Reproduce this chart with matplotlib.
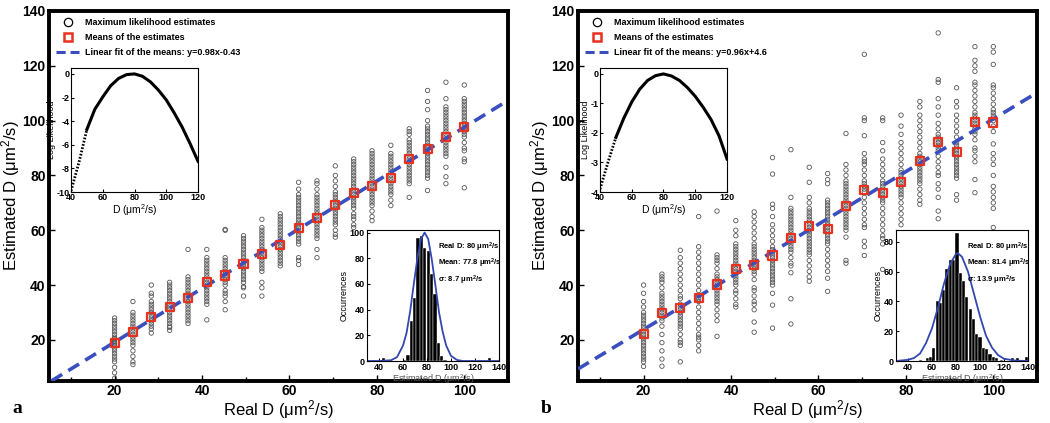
import numpy as np
import matplotlib
matplotlib.use('Agg')
from matplotlib import pyplot as plt
from matplotlib.lines import Line2D

plt.rcParams['font.family'] = ['Liberation Sans', 'DejaVu Sans']
plt.rcParams['mathtext.fontset'] = 'custom'
plt.rcParams['mathtext.rm'] = 'Liberation Sans'
plt.rcParams['mathtext.bf'] = 'Liberation Sans:bold'
plt.rcParams['mathtext.default'] = 'regular'
plt.rcParams['axes.unicode_minus'] = False

# real D values (columns of estimates)
real_d = [20, 24.2, 28.4, 32.6, 36.8, 41.1, 45.3, 49.5, 53.7, 57.9,
          62.1, 66.3, 70.5, 74.7, 78.9, 83.2, 87.4, 91.6, 95.8, 100]

# panel a: maximum likelihood estimates per column
est_a = [
    [6, 8, 10, 12, 13, 14, 15, 16, 17, 18, 18.5, 19, 19.5, 20, 20.5, 21, 22, 23, 24, 25, 26, 27, 28],
    [11, 12, 14, 16, 18, 19, 20, 21, 22, 23, 24, 25, 26, 27, 28, 29, 30, 34],
    [22.5, 24, 25, 26, 27, 28, 29, 30, 31, 32, 33, 34, 36, 37, 40],
    [23.5, 24.5, 25, 26, 27, 28, 29, 30, 31, 32, 33, 34, 35, 36, 37, 38, 39, 40, 41],
    [26, 27, 28, 29, 30, 31, 32, 33, 34, 35, 36, 37, 38, 39, 40, 41, 42, 43, 53],
    [27.3, 33, 34, 35, 36, 37, 38, 39, 40, 41, 42, 43, 44, 45, 46, 47, 48, 49, 50, 53],
    [31, 34, 36, 37, 38, 40, 41, 42, 43, 44, 45, 46, 47, 48, 49, 50, 60, 60.3],
    [36, 39, 39.5, 41, 42, 43, 44, 45, 46, 47, 48, 49, 50, 51, 52, 53, 54, 55, 56, 57, 58],
    [36, 39, 41, 45, 46, 47, 48, 49, 50, 51, 52, 53, 54, 55, 56, 57, 58, 59, 60, 61, 64],
    [47, 48, 49, 50, 51, 52, 53, 54, 55, 56, 57, 58, 59, 60, 61, 62, 63, 64, 65, 66],
    [47.5, 49, 50, 55, 56, 57, 58, 59, 60, 61, 62, 63, 64, 65, 66, 67, 68, 69, 70, 71, 72, 73, 75, 77.5],
    [50, 53, 57, 58, 59, 60, 61, 62, 63, 64, 65, 66, 67, 68, 69, 70, 71, 72, 73, 75, 77, 78],
    [57.5, 58.5, 60, 62, 63, 64, 65, 66, 67, 68, 69, 70, 71, 72, 73, 74, 76, 78, 80, 83.5],
    [61, 62, 64, 65, 66, 68, 69, 70, 71, 72, 73, 74, 75, 76, 77, 78, 79, 80, 81, 82, 83, 84, 85, 86],
    [63.5, 65, 67, 69, 70, 71, 72, 73, 74, 75, 76, 77, 78, 79, 80, 81, 82, 83, 84, 85, 86, 87, 88, 89],
    [69, 71, 73, 74, 75, 76, 77, 78, 79, 80, 81, 82, 83, 84, 85, 86, 87, 88, 91],
    [72, 77, 78, 79, 80, 81, 82, 83, 84, 85, 86, 87, 88, 89, 90, 91, 92, 93, 95, 96, 97],
    [74.5, 79, 80, 81, 82, 83, 84, 85, 86, 87, 88, 89, 90, 91, 92, 93, 94, 95, 96, 97, 98, 100, 104, 107, 111],
    [77, 79.5, 83, 87, 88, 89, 90, 91, 92, 93, 94, 95, 96, 97, 98, 99, 100, 101, 102, 103, 104, 105, 108, 114],
    [75.5, 85, 86, 89, 90, 92, 94, 95, 96, 97, 98, 99, 100, 101, 102, 103, 104, 105, 106, 107, 108, 113],
]
means_a = [18.8, 22.8, 28.3, 31.9, 35.4, 41.1, 43.5, 47.8, 51.4, 54.7,
           60.8, 64.6, 69.2, 73.7, 76.0, 79.2, 85.9, 89.8, 94.1, 97.7]
fit_a = (0.98, -0.43)

# panel b
est_b = [
    [10.3, 12, 13, 14, 15, 16, 17, 18, 19, 20, 21, 22, 23, 24, 25, 26, 27, 28, 29, 30, 32, 34, 37, 40],
    [10.4, 13, 16, 19, 22, 25, 27, 28, 29, 30, 31, 32, 33, 34, 35, 36, 37, 39, 41, 42, 43, 44],
    [12, 18, 19, 20, 22, 24, 25, 26, 27, 28, 29, 30, 31, 32, 33, 35, 36, 38, 40, 42, 44, 46, 48, 50, 52.7],
    [16, 18, 20, 21, 22, 24, 26, 28, 30, 32, 34, 35, 36, 38, 40, 42, 44, 46, 48, 50, 52, 54, 65],
    [21.3, 27, 29, 31, 33, 34, 35, 36, 37, 38, 39, 40, 41, 42, 43, 44, 46, 48, 49, 50, 51, 67, 75.5],
    [32, 33, 35, 37, 38, 40, 41, 42, 43, 44, 45, 46, 47, 48, 49, 50, 51, 52, 53, 54, 55, 58, 60, 63.5],
    [22.8, 26.5, 31, 33, 34, 36, 38, 39, 42, 44, 45, 46, 47, 48, 49, 50, 51, 52, 53, 54, 55, 57, 59, 61, 63, 65, 66.7],
    [24.3, 32.7, 37, 40, 41, 42, 43, 44, 45, 46, 47, 48, 49, 50, 51, 52, 53, 54, 56, 58, 60, 62, 65, 68, 69.5, 80.5, 86.5],
    [25.8, 35, 44.5, 47, 48, 50, 52, 53, 54, 55, 56, 57, 58, 59, 60, 61, 62, 63, 64, 65, 66, 67, 68, 72, 89.4],
    [41.4, 43, 45, 47, 49, 51, 52, 53, 54, 55, 56, 57, 58, 59, 60, 61, 62, 63, 64, 65, 66, 67, 68, 70, 72, 77.5, 83],
    [37.7, 42.5, 45, 47, 49, 51, 53, 55, 56, 57, 58, 59, 60, 61, 62, 63, 64, 65, 66, 67, 68, 69, 70, 71, 77, 78.5, 80.7],
    [48, 49, 57.5, 60, 61, 62, 63, 64, 65, 66, 67, 68, 69, 70, 71, 72, 73, 74, 75, 76, 77, 78, 80, 82, 84, 95.3],
    [50.8, 54, 56, 61, 62, 64, 66, 68, 70, 72, 74, 75, 76, 77, 78, 80, 82, 84, 85, 86, 88, 94.5, 100, 101, 124.2],
    [45.7, 55, 57, 58, 60, 62, 64, 66, 68, 70, 71, 72, 73, 74, 75, 76, 77, 78, 80, 82, 84, 86, 89, 92, 100, 101],
    [62, 64, 66, 68, 70, 72, 73, 74, 75, 76, 77, 78, 79, 80, 81, 82, 84, 86, 88, 90, 92, 95, 98, 102],
    [69.5, 71, 73, 75, 77, 78, 79, 80, 81, 82, 83, 84, 85, 86, 87, 88, 90, 92, 94, 96, 98, 100, 102, 105, 107],
    [64.2, 67, 72, 75, 77, 80, 81, 83, 85, 87, 89, 90, 91, 92, 93, 94, 95, 97, 99, 102, 105, 108, 114, 115, 132],
    [71, 73, 79, 80, 81, 82, 83, 84, 85, 86, 87, 88, 89, 90, 91, 92, 94, 96, 98, 100, 102, 105, 107, 112],
    [73.7, 78.5, 85, 87, 89, 90, 93, 95, 96, 97, 98, 99, 100, 101, 102, 103, 105, 107, 109, 111, 113, 114, 118, 120, 122, 127],
    [61, 68, 70, 72, 74, 76, 80, 84, 86, 88, 91.5, 96, 98, 100, 101, 102, 103, 104, 106, 108, 110, 112, 113, 120.5, 125, 127],
]
means_b = [22.2, 29.7, 31.7, 35.2, 40.2, 45.8, 47.4, 50.8, 57.3, 61.4,
           60.6, 68.7, 74.6, 73.6, 77.6, 85.3, 92.2, 88.6, 99.6, 99.3]
fit_b = (0.96, 4.6)

# log likelihood insets
ll_d = [40, 45, 50, 55, 60, 65, 70, 75, 80, 85, 90, 95, 100, 105, 110, 115, 120]
ll_a = [-9.9, -7.5, -4.7, -3.0, -1.95, -1.0, -0.38, -0.06, 0, -0.2, -0.67, -1.36, -2.2, -3.3, -4.5, -5.9, -7.4]
ll_b = [-3.9, -3.0, -2.15, -1.5, -0.95, -0.52, -0.22, -0.06, 0, -0.07, -0.22, -0.46, -0.76, -1.13, -1.55, -2.1, -2.88]

# histogram insets
hist_a_x = [44.0, 61.4, 64.2, 67.0, 69.8, 72.6, 75.4, 78.2, 81.0, 83.8, 86.6, 89.4, 92.2, 95.0, 132.0]
hist_a_n = [2, 1, 5, 31, 49, 96, 97, 88, 86, 68, 52, 14, 4, 1, 2]
gauss_a_x = [30, 40, 50, 55, 60, 63, 66, 69, 72, 75, 78, 81, 84, 87, 90, 93, 96, 100, 105, 110, 140]
gauss_a_y = [0, 0, 0.6, 3, 12, 22, 39, 60, 80, 95, 100, 95, 79, 59, 38, 23, 12, 4, 0.8, 0, 0]

hist_b_x = [36.0, 50.5, 56.0, 58.8, 61.5, 64.3, 67.0, 69.8, 72.5, 75.3, 78.0, 80.8, 83.5, 86.3, 89.0,
            91.8, 94.5, 97.3, 100.0, 102.8, 105.5, 108.3, 111.0, 113.8, 118.0, 127.0, 131.0, 138.5]
hist_b_n = [1, 1, 2, 3, 9, 40, 39, 48, 62, 68, 68, 86, 59, 54, 43,
            35, 28, 18, 16, 9, 8, 5, 3, 2, 1, 2, 2, 3]
gauss_b_x = [30, 40, 45, 50, 55, 60, 65, 70, 75, 80, 81.4, 85, 90, 95, 100, 105, 110, 115, 120, 130, 140]
gauss_b_y = [0, 0.8, 2, 5, 12, 22, 36, 52, 65, 72, 72.5, 70, 60, 45, 30, 17, 9, 4, 1.5, 0.2, 0]

panels = [
    dict(est=est_a, means=means_a, fit=fit_a, ll=ll_a, ll_ticks=[0, -2, -4, -6, -8, -10], ll_lim=(-10, 0.5),
         hx=hist_a_x, hn=hist_a_n, gx=gauss_a_x, gy=gauss_a_y, hlim=(0, 102), hticks=[0, 20, 40, 60, 80, 100],
         stats='Real D: 80 μm$^2$/s\nMean: 77.8 μm$^2$/s\nσ: 8.7 μm$^2$/s', letter='a'),
    dict(est=est_b, means=means_b, fit=fit_b, ll=ll_b, ll_ticks=[0, -1, -2, -3, -4], ll_lim=(-4, 0.2),
         hx=hist_b_x, hn=hist_b_n, gx=gauss_b_x, gy=gauss_b_y, hlim=(0, 88), hticks=[0, 20, 40, 60, 80],
         stats='Real D: 80 μm$^2$/s\nMean: 81.4 μm$^2$/s\nσ: 13.9 μm$^2$/s', letter='b'),
]

blue = '#3a4fbf'
red = '#e8321e'

fig = plt.figure(figsize=(10.5, 4.23), dpi=100)
lefts = [49, 578]

for p, left in zip(panels, lefts):
    ax = fig.add_axes([left / 1050, 42 / 423, 459 / 1050, 370 / 423])
    for x, ys in zip(real_d, p['est']):
        ax.scatter([x] * len(ys), ys, s=10, facecolors='none', edgecolors='#555555', linewidths=0.6, zorder=2)
    ax.axline((0, p['fit'][1]), slope=p['fit'][0], color=blue, lw=2.6, ls=(0, (3.5, 2)), zorder=3)
    ax.scatter(real_d, p['means'], s=34, marker='s', facecolors='none', edgecolors=red, linewidths=1.6, zorder=4)
    ax.set_xlim(5, 110)
    ax.set_ylim(5, 140)
    ax.set_xticks([20, 40, 60, 80, 100])
    ax.set_xticks(range(10, 111, 10), minor=True)
    ax.set_yticks([20, 40, 60, 80, 100, 120, 140])
    ax.tick_params(direction='in', length=4, width=1, labelsize=10, pad=2.5)
    ax.tick_params(which='minor', direction='in', length=3, width=1)
    for lab in ax.get_xticklabels() + ax.get_yticklabels():
        lab.set_fontweight('bold')
    for s in ax.spines.values():
        s.set_linewidth(2.8)
    ax.set_xlabel('Real D (μm$^2$/s)', fontsize=12, labelpad=0)
    ax.set_ylabel('Estimated D (μm$^2$/s)', fontsize=12, labelpad=0)

    handles = [
        Line2D([], [], ls='none', marker='o', mfc='none', mec='black', ms=6, mew=0.9),
        Line2D([], [], ls='none', marker='s', mfc='none', mec=red, ms=6, mew=1.8),
        Line2D([], [], color=blue, lw=2.2, ls=(0, (3, 1.6))),
    ]
    labels = ['Maximum likelihood estimates', 'Means of the estimates',
              'Linear fit of the means: y=%sx%+g' % (p['fit'][0], p['fit'][1])]
    ax.legend(handles, labels, loc='upper left', frameon=False, prop={'weight': 'bold', 'size': 6.5},
              handlelength=2.6, labelspacing=0.7, borderaxespad=0.35, handletextpad=0.6)

    ax.text(-0.08, -0.05, p['letter'], transform=ax.transAxes, fontsize=14, fontweight='bold',
            family='Liberation Serif', va='top', ha='left')

    # log likelihood inset
    ins = fig.add_axes([(left + 22) / 1050, (423 - 192) / 423, 127 / 1050, 124 / 423])
    ins.plot(ll_d[2:], p['ll'][2:], color='black', lw=2.2)
    ins.plot(ll_d[:3], p['ll'][:3], color='black', lw=2.0, ls=(0, (0.6, 0.6)))
    ins.set_xlim(40, 120)
    ins.set_ylim(*p['ll_lim'])
    ins.set_xticks([40, 60, 80, 100, 120])
    ins.set_yticks(p['ll_ticks'])
    ins.tick_params(direction='in', length=2, labelsize=6.5, pad=1)
    for lab in ins.get_xticklabels() + ins.get_yticklabels():
        lab.set_fontweight('bold')
    ins.set_xlabel('D (μm$^2$/s)', fontsize=7.5, labelpad=0)
    ins.set_ylabel('Log Likelihood', fontsize=6.5, labelpad=0)

    # histogram inset
    hx = fig.add_axes([(left + 318) / 1050, (423 - 361) / 423, 132 / 1050, 131 / 423])
    hx.bar(p['hx'], p['hn'], width=2.75, color='black', edgecolor='white', linewidth=0.3)
    hx.plot(p['gx'], p['gy'], color='#3347b0', lw=1.3)
    hx.set_xlim(30, 140)
    hx.set_ylim(*p['hlim'])
    hx.set_xticks([40, 60, 80, 100, 120, 140])
    hx.set_yticks(p['hticks'])
    hx.tick_params(direction='in', length=2, labelsize=6.5, pad=1.5)
    for lab in hx.get_xticklabels() + hx.get_yticklabels():
        lab.set_fontweight('bold')
    hx.set_xlabel('Estimated D (μm$^2$/s)', fontsize=6.5, labelpad=0, color='#555555')
    hx.set_ylabel('Occurrences', fontsize=6.5, labelpad=1)
    hx.text(0.54, 0.92, p['stats'], transform=hx.transAxes, fontsize=5.5, fontweight='bold',
            va='top', ha='left', linespacing=1.35)

fig.savefig('out.png', dpi=100)
